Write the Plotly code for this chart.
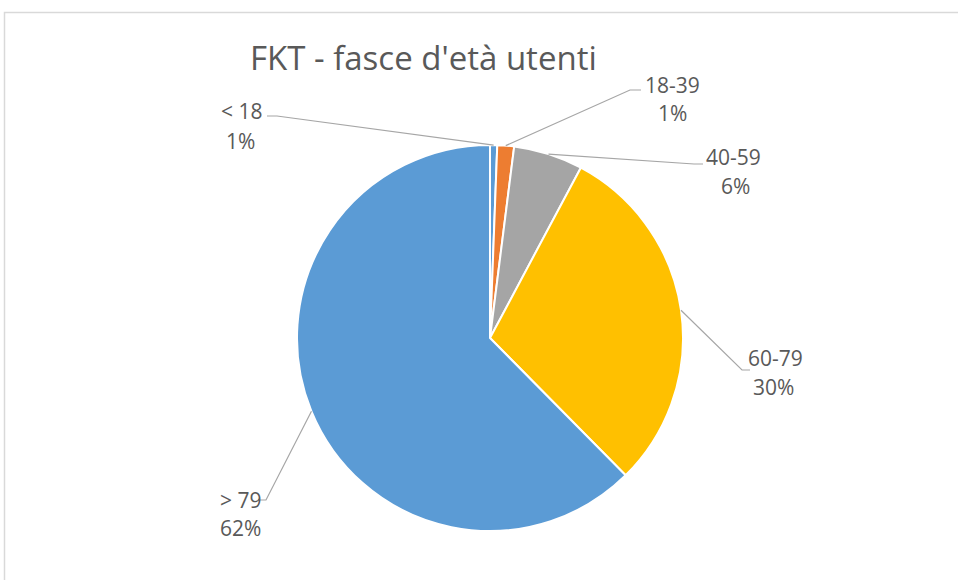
import math
import plotly.graph_objects as go

# data
categories = ["< 18", "18-39", "40-59", "60-79", "> 79"]
values = [0.6, 1.4, 5.8, 29.8, 62.4]
colors = ["#5B9BD5", "#ED7D31", "#A5A5A5", "#FFC000", "#5B9BD5"]

W, H = 958, 580
TEXT = "#595959"
LINE = "#A6A6A6"
FONT = "Open Sans"

# pie placement in pixels
CX, CY, R = 490, 338, 193

# label layout: elbow, line end, name centre, percent centre (pixels)
label_layout = {
    "< 18": {"elbow": (277, 116), "end": (267, 116), "name": (241, 111), "pct": (240, 141)},
    "18-39": {"elbow": (630, 90), "end": (641, 90), "name": (672, 85), "pct": (672, 113)},
    "40-59": {"elbow": (694, 164), "end": (703, 164), "name": (733, 157), "pct": (735, 186)},
    "60-79": {"elbow": (742, 370), "end": (750, 370), "name": (775, 358), "pct": (773, 387)},
    "> 79": {"elbow": (266, 500), "end": (258, 500), "name": (240, 500), "pct": (240, 528)},
}


def px(x):
    return x / W


def py(y):
    return 1 - y / H


fig = go.Figure(
    go.Pie(
        labels=categories,
        values=values,
        marker={"colors": colors, "line": {"color": "white", "width": 2}},
        sort=False,
        direction="clockwise",
        rotation=0,
        textinfo="none",
        hoverinfo="label+percent",
        domain={"x": [px(CX - R), px(CX + R)], "y": [py(CY + R), py(CY - R)]},
        showlegend=False,
    )
)

total = sum(values)
shapes = [
    # chart-area border (cut off at right and bottom)
    {
        "type": "rect", "xref": "paper", "yref": "paper",
        "x0": px(4.5), "x1": 1.02, "y0": -0.02, "y1": py(12.5),
        "line": {"color": "#D9D9D9", "width": 1.5},
    }
]
annotations = [
    {
        "text": "FKT - fasce d'età utenti", "xref": "paper", "yref": "paper",
        "x": px(423), "y": py(57), "xanchor": "center", "yanchor": "middle",
        "showarrow": False,
        "font": {"family": FONT, "size": 33, "color": TEXT},
    }
]

cum = 0
for cat, v in zip(categories, values):
    mid = 2 * math.pi * (cum + v / 2) / total
    cum += v
    sx = CX + R * math.sin(mid)
    sy = CY - R * math.cos(mid)
    lay = label_layout[cat]
    ex, ey = lay["elbow"]
    tx, ty = lay["end"]
    shapes.append({
        "type": "path", "xref": "paper", "yref": "paper",
        "path": f"M {px(sx)},{py(sy)} L {px(ex)},{py(ey)} L {px(tx)},{py(ty)}",
        "line": {"color": LINE, "width": 1.2},
    })
    pct = f"{round(v / total * 100)}%"
    for txt, pos in ((cat, lay["name"]), (pct, lay["pct"])):
        annotations.append({
            "text": txt, "xref": "paper", "yref": "paper",
            "x": px(pos[0]), "y": py(pos[1]),
            "xanchor": "center", "yanchor": "middle", "showarrow": False,
            "font": {"family": FONT, "size": 21, "color": TEXT},
        })

fig.update_layout(
    width=W,
    height=H,
    margin={"t": 0, "b": 0, "l": 0, "r": 0, "pad": 0},
    paper_bgcolor="white",
    plot_bgcolor="white",
    shapes=shapes,
    annotations=annotations,
)

# drop the browser's default body margin so the figure fills the window
fig.write_html(
    "out.html",
    config={"displayModeBar": False},
    post_script="document.body.style.margin = '0px';",
)
